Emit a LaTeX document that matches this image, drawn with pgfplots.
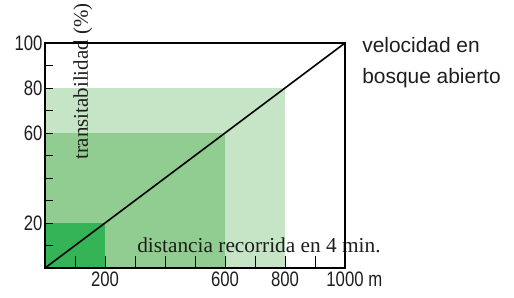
\documentclass[border=0pt]{standalone}
\usepackage{fontspec}
\setmainfont{Liberation Serif}
\setsansfont{Liberation Sans}
\newfontfamily\narrowsans[FakeStretch=0.8]{Liberation Sans}
\usepackage{pgfplots}
\pgfplotsset{compat=1.18}
\definecolor{gLight}{RGB}{198,228,198}
\definecolor{gMid}{RGB}{145,204,145}
\definecolor{gDark}{RGB}{52,180,86}
\definecolor{txt}{RGB}{30,30,30}
\begin{document}
\begin{tikzpicture}[x=1bp,y=1bp]
\begin{axis}[
  at={(0,0)}, anchor=origin,
  scale only axis, width=300bp, height=225bp,
  xmin=0, xmax=1000, ymin=0, ymax=100,
  axis line style={line width=1.1pt, black},
  xtick={0,100,...,1000}, ytick={0,10,...,100},
  xticklabels={,,200,,,,600,,800,,1000\rlap{ m}},
  yticklabels={,,20,,,,60,,80,,100},
  xtick pos=bottom, ytick pos=left, tick align=inside,
  major tick length=8bp,
  x tick style={line width=1pt, black, /pgfplots/major tick length=12bp},
  y tick style={line width=1pt, black},
  ticklabel style={font=\narrowsans\fontsize{21}{21}\selectfont, text=txt},
  yticklabel style={xshift=1bp},
  /pgf/number format/assume math mode=true,
  clip=false,
  axis on top,
]
\addplot[fill=gLight, draw=none] coordinates {(0,0) (800,0) (800,80) (0,80)} -- cycle;
\addplot[fill=gMid, draw=none] coordinates {(0,0) (600,0) (600,60) (0,60)} -- cycle;
\addplot[fill=gDark, draw=none] coordinates {(0,0) (200,0) (200,20) (0,20)} -- cycle;
\addplot[black, line width=1.6pt] coordinates {(0,0) (1000,100)};
\node[anchor=base west, inner sep=0, font=\fontsize{21.4}{21}\selectfont, text=txt] at (axis cs:307,7.1) {distancia recorrida en 4 min.};
\node[anchor=base west, rotate=90, inner sep=0, font=\fontsize{21}{21}\selectfont, text=txt] at (axis cs:143,48) {transitabilidad (\%)};
\node[anchor=base west, inner sep=0, font=\sffamily\fontsize{21}{21}\selectfont, text=txt] at (axis cs:1057,95.6) {velocidad en};
\node[anchor=base west, inner sep=0, font=\sffamily\fontsize{21}{21}\selectfont, text=txt] at (axis cs:1057,82.2) {bosque abierto};
\end{axis}
\useasboundingbox (-45,-29) rectangle (469,268);
\end{tikzpicture}
\end{document}
